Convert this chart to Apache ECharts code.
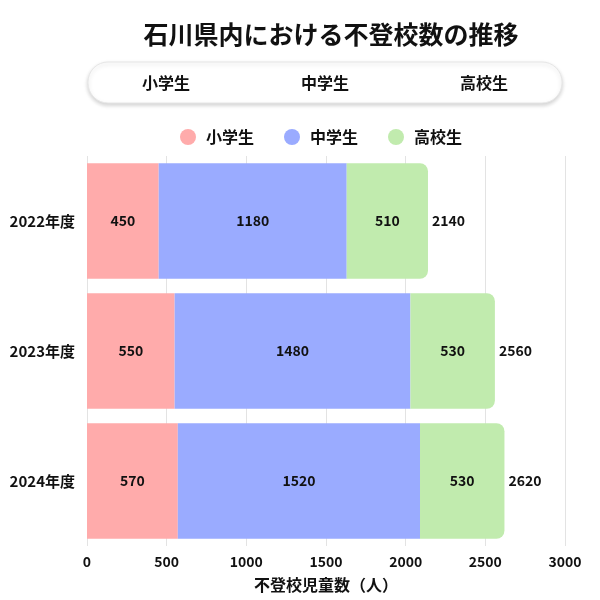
<!DOCTYPE html>
<html>
<head>
<meta charset="utf-8">
<script src="https://cdn.jsdelivr.net/npm/echarts@6/dist/echarts.min.js"></script>
<style>
html, body { margin: 0; padding: 0; background: #fff; }
#main { width: 600px; height: 600px; }
</style>
</head>
<body>
<div id="main"></div>
<script>
// 年度
var years = ['2022年度', '2023年度', '2024年度'];
// 学校種別ごとの不登校数
var elementary = [450, 550, 570];
var juniorHigh = [1180, 1480, 1520];
var highSchool = [510, 530, 530];
var seriesNames = ['小学生', '中学生', '高校生'];
var colors = ['#FFABAB', '#9AABFF', '#C1EBAE'];

var font = 'Noto Sans CJK JP';

// 合計（右側のラベル用）
var totals = years.map(function (y, i) {
    return elementary[i] + juniorHigh[i] + highSchool[i];
});

var chart = echarts.init(document.getElementById('main'));

var inLabel = {
    show: true,
    position: 'inside',
    color: '#111',
    fontSize: 14,
    fontWeight: 'bold',
    fontFamily: font
};

// 上部ボックスの文字
function pillText(x, s) {
    return {
        type: 'text', x: x, y: 83,
        style: { text: s, fontSize: 16, fontWeight: 'bold', fill: '#111', fontFamily: font, align: 'center', verticalAlign: 'middle' }
    };
}

var option = {
    animation: false,
    textStyle: { fontFamily: font },
    title: {
        text: '石川県内における不登校数の推移',
        left: 326,
        textAlign: 'center',
        top: 17,
        textStyle: { fontSize: 25, fontWeight: 'bold', color: '#111', fontFamily: font }
    },
    graphic: [
        {
            type: 'rect',
            shape: { x: 88, y: 62, width: 474, height: 41, r: 20 },
            style: {
                fill: '#fff',
                stroke: '#e6e6e6',
                lineWidth: 1,
                shadowBlur: 4,
                shadowOffsetY: 2,
                shadowColor: 'rgba(0,0,0,0.18)'
            }
        },
        pillText(166, seriesNames[0]),
        pillText(325, seriesNames[1]),
        pillText(484, seriesNames[2])
    ],
    legend: {
        data: seriesNames,
        top: 124,
        left: 175,
        icon: 'circle',
        itemWidth: 16,
        itemHeight: 16,
        itemGap: 30,
        textStyle: { fontSize: 16, fontWeight: 'bold', color: '#111', fontFamily: font, padding: [0, 0, 0, 5] }
    },
    grid: {
        left: 87,
        right: 35,
        top: 156,
        bottom: 54
    },
    xAxis: {
        type: 'value',
        min: 0,
        max: 3000,
        interval: 500,
        name: '不登校児童数（人）',
        nameLocation: 'middle',
        nameGap: 31,
        nameTextStyle: { fontSize: 16, fontWeight: 'bold', color: '#111', fontFamily: font },
        axisLine: { show: false },
        axisTick: { show: false },
        axisLabel: {
            fontSize: 14, fontWeight: 'bold', color: '#111', margin: 9, fontFamily: font,
            formatter: function (v) { return String(v); }
        },
        splitLine: { show: true, lineStyle: { color: '#e3e3e3', width: 1 } }
    },
    yAxis: {
        type: 'category',
        data: years,
        inverse: true,
        axisLine: { show: false },
        axisTick: { show: false },
        axisLabel: { fontSize: 15, fontWeight: 'bold', color: '#111', margin: 12, fontFamily: font }
    },
    series: [
        {
            name: seriesNames[0],
            type: 'bar',
            stack: 'total',
            barWidth: '89%',
            data: elementary,
            itemStyle: { color: colors[0] },
            label: inLabel
        },
        {
            name: seriesNames[1],
            type: 'bar',
            stack: 'total',
            data: juniorHigh,
            itemStyle: { color: colors[1] },
            label: inLabel
        },
        {
            name: seriesNames[2],
            type: 'bar',
            stack: 'total',
            data: highSchool,
            itemStyle: { color: colors[2], borderRadius: [0, 8, 8, 0] },
            label: inLabel
        },
        {
            name: '合計',
            type: 'scatter',
            symbolSize: 0,
            itemStyle: { opacity: 1 },
            data: totals.map(function (t, i) { return [t, years[i]]; }),
            label: {
                show: true,
                position: 'right',
                distance: 4,
                color: '#111',
                fontSize: 14,
                fontWeight: 'bold',
                fontFamily: font,
                formatter: function (p) { return p.value[0]; }
            }
        }
    ]
};

chart.setOption(option);
</script>
</body>
</html>
